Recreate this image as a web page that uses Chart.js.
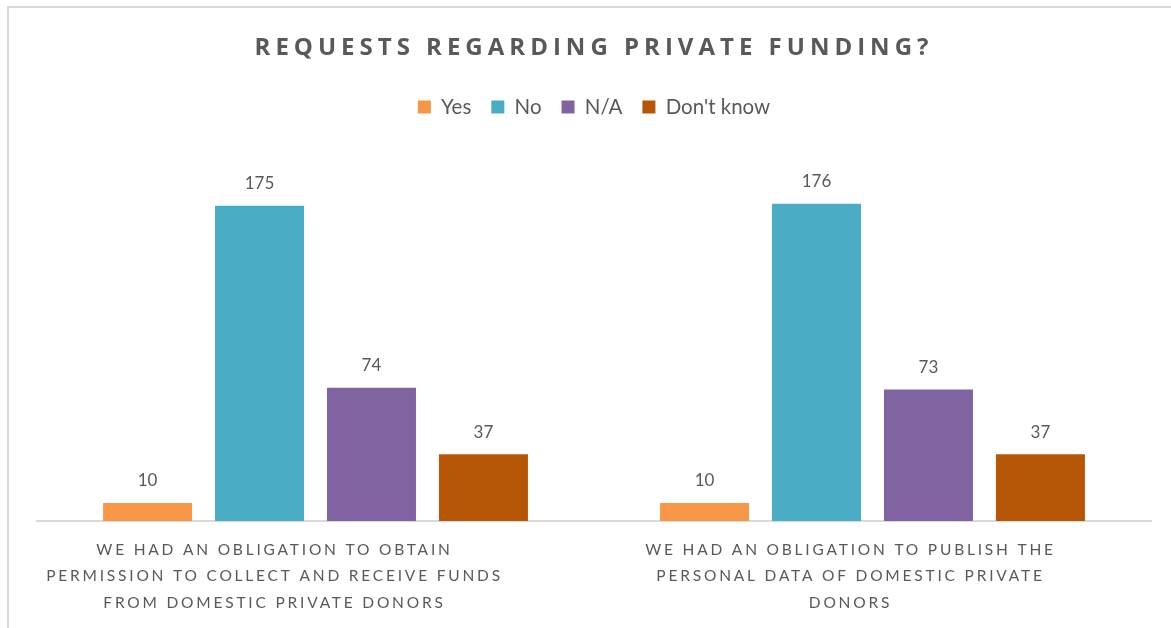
<!DOCTYPE html>
<html>
<head>
<meta charset="utf-8">
<script src="https://cdn.jsdelivr.net/npm/chart.js@4.4.1/dist/chart.umd.min.js"></script>
<style>
  html, body { margin: 0; padding: 0; background: #fff; }
  #wrap { position: relative; width: 1171px; height: 628px; }
  #frame { position: absolute; left: 7px; top: 6px; right: -10px; bottom: -10px; border-left: 2px solid #d9d9d9; border-top: 2px solid #d9d9d9; }
  canvas { position: absolute; left: 0; top: 0; }
</style>
</head>
<body>
<div id="wrap">
  <div id="frame"></div>
  <canvas id="c" width="1171" height="628"></canvas>
</div>
<script>
const categories = [
  ["WE HAD AN OBLIGATION TO OBTAIN", "PERMISSION TO COLLECT AND RECEIVE FUNDS", "FROM DOMESTIC PRIVATE DONORS"],
  ["WE HAD AN OBLIGATION TO PUBLISH THE", "PERSONAL DATA OF DOMESTIC PRIVATE", "DONORS"]
];
const seriesNames = ["Yes", "No", "N/A", "Don't know"];
const yesValues = [10, 10];
const noValues = [175, 176];
const naValues = [74, 73];
const dontKnowValues = [37, 37];
const chartTitle = "REQUESTS REGARDING PRIVATE FUNDING?";

const colors = ["#F79646", "#4BACC6", "#8064A2", "#B65708"];
const seriesValues = [yesValues, noValues, naValues, dontKnowValues];
const labelShift = [-41, -22];

const textColor = "#595959";
const baseFont = "Lato, 'Open Sans', sans-serif";

const valueLabels = {
  id: "valueLabels",
  afterDatasetsDraw(chart) {
    const ctx = chart.ctx;
    ctx.save();
    ctx.font = "17px " + baseFont;
    ctx.fillStyle = textColor;
    ctx.textAlign = "center";
    ctx.textBaseline = "middle";
    chart.data.datasets.forEach((ds, i) => {
      const meta = chart.getDatasetMeta(i);
      meta.data.forEach((bar, j) => {
        ctx.fillText(String(ds.data[j]), bar.x, bar.y - 22);
      });
    });
    ctx.restore();
  }
};

const spacing = {
  id: "spacing",
  afterLayout(chart) {
    const wrapDraw = (obj, name, sp) => {
      if (!obj || obj["__wrapped_" + name]) return;
      const orig = obj[name];
      obj[name] = function(...args) {
        const ctx = chart.ctx;
        ctx.save();
        ctx.letterSpacing = sp;
        const r = orig.apply(this, args);
        ctx.restore();
        return r;
      };
      obj["__wrapped_" + name] = true;
    };
    wrapDraw(chart.titleBlock, "draw", "5px");
    const x = chart.scales.x;
    wrapDraw(x, "drawLabels", "2.8px");
    if (!x.__shifted) {
      const origItems = x.getLabelItems;
      x.getLabelItems = function(ca) {
        const items = origItems.call(this, ca);
        return items.map((it, i) => {
          const tr = it.options.translation;
          return Object.assign({}, it, {
            options: Object.assign({}, it.options, { translation: [tr[0] + (labelShift[i] || 0), tr[1]] })
          });
        });
      };
      x.__shifted = true;
    }
  }
};

new Chart(document.getElementById("c"), {
  type: "bar",
  data: {
    labels: categories,
    datasets: seriesNames.map((name, i) => ({
      label: name,
      data: seriesValues[i],
      backgroundColor: colors[i],
      borderWidth: 0,
      categoryPercentage: 0.804,
      barPercentage: 0.795
    }))
  },
  options: {
    responsive: false,
    animation: false,
    devicePixelRatio: 1,
    layout: { padding: { left: 37, right: 20, top: 22, bottom: -4 } },
    plugins: {
      title: {
        display: true,
        text: chartTitle,
        color: textColor,
        font: { family: "'Open Sans', sans-serif", size: 24, weight: "bold" },
        padding: { top: 12, bottom: 14 }
      },
      legend: {
        display: true,
        position: "top",
        labels: {
          color: textColor,
          font: { family: baseFont, size: 20.5 },
          boxWidth: 13,
          boxHeight: 13,
          padding: 20,
          useBorderRadius: false
        }
      },
      tooltip: { enabled: false }
    },
    scales: {
      x: {
        grid: { display: false, drawTicks: false },
        border: { display: true, color: "#d9d9d9", width: 2 },
        ticks: {
          color: textColor,
          font: { family: baseFont, size: 15.5, lineHeight: 1.7 },
          maxRotation: 0,
          autoSkip: false,
          padding: 16
        }
      },
      y: {
        display: false,
        min: 0,
        max: 218.5
      }
    }
  },
  plugins: [valueLabels, spacing]
});
</script>
</body>
</html>
